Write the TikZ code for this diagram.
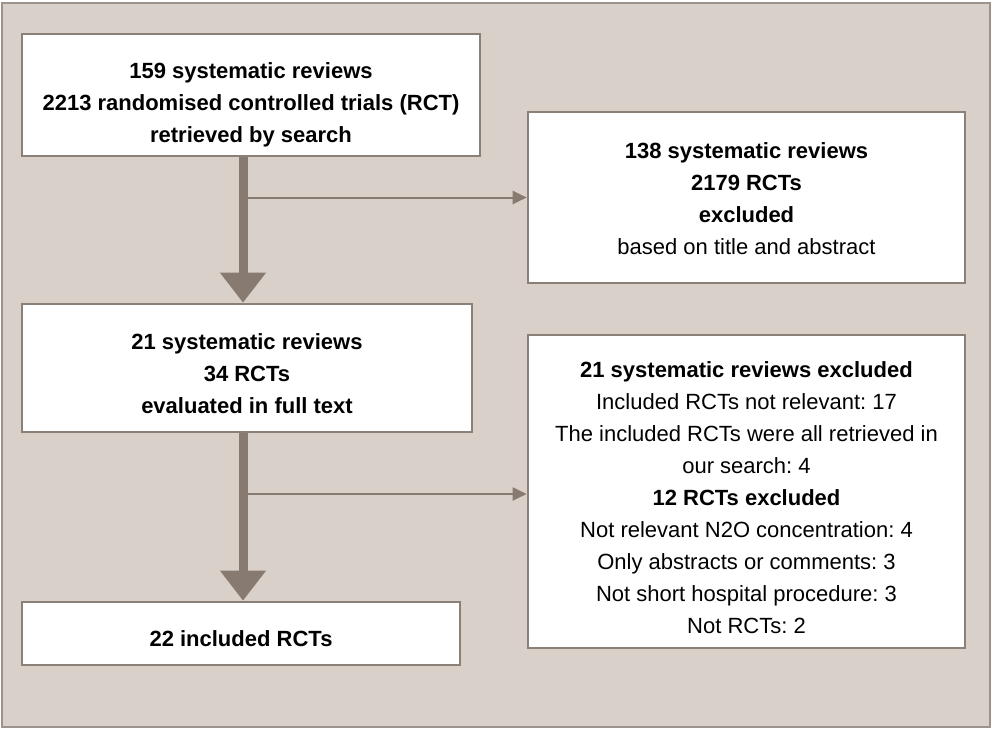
\documentclass[tikz,border=0pt]{standalone}
\usepackage{fontspec}
\setmainfont{Liberation Sans}
\usetikzlibrary{arrows.meta}
\frenchspacing
\definecolor{panel}{HTML}{D9D1C9}
\definecolor{flow}{HTML}{877B71}
\definecolor{rim}{HTML}{8A8078}
% raise the first line's height so the text sits a little below the box centre
\newcommand{\topgap}[1]{\rule{0pt}{#1}}
\tikzset{
  box/.style={draw=rim, line width=1.3pt, fill=white, align=center, inner sep=0pt,
    font=\fontsize{11}{16}\selectfont},
  bigflow/.style={draw=flow, line width=4.5pt, -{Triangle[width=22pt,length=15pt,fill=flow]}},
  sideflow/.style={draw=flow, line width=1pt, -{Triangle[width=6.5pt,length=7pt,fill=flow]}}
}
\begin{document}
\begin{tikzpicture}[x=0.5pt,y=-0.5pt]
\useasboundingbox (0,0) rectangle (992,729);
\draw[fill=panel, draw=rim!85, line width=1pt] (2,3) rectangle (990,727);

\node[box, minimum width=229pt, minimum height=61pt] (search) at (251,95)
  {\topgap{18pt}\textbf{159 systematic reviews}\\ \textbf{2213 randomised controlled trials (RCT)}\\ \textbf{retrieved by search}};
\node[box, minimum width=218.5pt, minimum height=85.5pt] (screenout) at (746.5,197.5)
  {\topgap{9.5pt}\textbf{138 systematic reviews}\\ \textbf{2179 RCTs}\\ \textbf{excluded}\\ based on title and abstract};
\node[box, minimum width=225pt, minimum height=64pt] (fulltext) at (247,368)
  {\topgap{14pt}\textbf{21 systematic reviews}\\ \textbf{34 RCTs}\\ \textbf{evaluated in full text}};
\node[box, minimum width=218.5pt, minimum height=156.5pt] (fullout) at (746.5,491.5)
  {\topgap{14pt}\textbf{21 systematic reviews excluded}\\ Included RCTs not relevant: 17\\
   The included RCTs were all retrieved in\\ our search: 4\\
   \textbf{12 RCTs excluded}\\ Not relevant N2O concentration: 4\\
   Only abstracts or comments: 3\\ Not short hospital procedure: 3\\ Not RCTs: 2};
\node[box, minimum width=219pt, minimum height=31.5pt] (included) at (241,633.5)
  {\topgap{13pt}\textbf{22 included RCTs}};

\coordinate (spine) at (243,0);
\coordinate (fork1) at (243,197.5);
\coordinate (fork2) at (243,494);

\draw[bigflow] (search.south -| spine) -- (fulltext.north -| spine);
\draw[bigflow] (fulltext.south -| spine) -- (included.north -| spine);
\draw[sideflow] (fork1) -- (fork1 -| screenout.west);
\draw[sideflow] (fork2) -- (fork2 -| fullout.west);
\end{tikzpicture}
\end{document}
